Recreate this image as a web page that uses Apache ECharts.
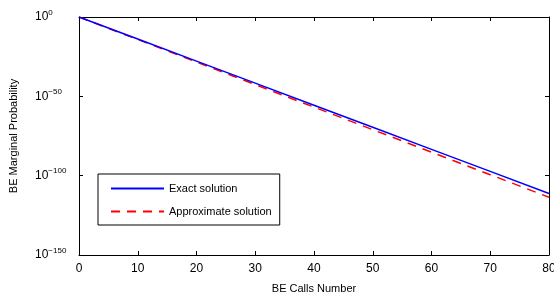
<!DOCTYPE html>
<html>
<head>
<meta charset="utf-8">
<script src="https://cdn.jsdelivr.net/npm/echarts@6/dist/echarts.min.js"></script>
<style>
  html, body { margin: 0; padding: 0; background: #fff; }
  #chart { width: 554px; height: 297px; }
</style>
</head>
<body>
<div id="chart"></div>
<script>
// calls number (x) and log10 of the probabilities
const calls = [0, 10, 20, 30, 40, 50, 60, 70, 80];
const exactLog10 = [0, -13.9, -27.8, -41.7, -55.6, -69.5, -83.4, -97.3, -111.2];
const approxLog10 = [0, -14.2, -28.4, -42.6, -56.8, -71.0, -85.2, -99.4, -113.6];
const yTicks = [-150, -100, -50, 0];
const seriesNames = ['Exact solution', 'Approximate solution'];

const font = 'Liberation Sans, Arial, sans-serif';

function pairs(ys) {
  return calls.map((x, i) => [x, ys[i]]);
}

function powLabel(e) {
  return '{b|10}{s|' + (e < 0 ? '\u2212' + (-e) : e) + '}';
}

const chart = echarts.init(document.getElementById('chart'));
chart.setOption({
  animation: false,
  textStyle: { fontFamily: font },
  grid: { left: 79, right: 5, top: 17, bottom: 42, outerBoundsMode: 'none' },
  legend: {
    orient: 'vertical',
    left: 98, top: 174,
    borderColor: '#000', borderWidth: 1,
    padding: [9, 8, 8, 12],
    itemWidth: 53, itemHeight: 10, itemGap: 12,
    itemStyle: { opacity: 0 },
    textStyle: { fontFamily: font, fontSize: 11, color: '#000' },
    data: seriesNames
  },
  xAxis: [{
    type: 'value', min: 0, max: 80, interval: 10, position: 'bottom',
    name: 'BE Calls Number', nameLocation: 'middle', nameGap: 28,
    nameTextStyle: { fontSize: 11, color: '#000' },
    axisLine: { onZero: false, lineStyle: { color: '#000', width: 1 } },
    axisTick: { inside: true, length: 4, lineStyle: { color: '#000' } },
    axisLabel: { fontSize: 12, color: '#000', margin: 8 },
    splitLine: { show: false }
  }, {
    type: 'value', min: 0, max: 80, interval: 10, position: 'top',
    axisLine: { onZero: false, lineStyle: { color: '#000', width: 1 } },
    axisTick: { inside: true, length: 4, lineStyle: { color: '#000' } },
    axisLabel: { show: false },
    splitLine: { show: false }
  }],
  yAxis: [{
    type: 'value', min: yTicks[0], max: yTicks[yTicks.length - 1], interval: 50, position: 'left',
    name: 'BE Marginal Probability', nameLocation: 'middle', nameGap: 60,
    nameTextStyle: { fontSize: 11, color: '#000' },
    axisLine: { onZero: false, lineStyle: { color: '#000', width: 1 } },
    axisTick: { inside: true, length: 4, lineStyle: { color: '#000' } },
    axisLabel: {
      align: 'left', margin: 44, color: '#000',
      formatter: powLabel,
      rich: {
        b: { fontSize: 12, color: '#000', fontFamily: font },
        s: { fontSize: 8, color: '#000', fontFamily: font, padding: [0, 0, 9, 0] }
      }
    },
    splitLine: { show: false }
  }, {
    type: 'value', min: yTicks[0], max: yTicks[yTicks.length - 1], interval: 50, position: 'right',
    axisLine: { onZero: false, lineStyle: { color: '#000', width: 1 } },
    axisTick: { inside: true, length: 4, lineStyle: { color: '#000' } },
    axisLabel: { show: false },
    splitLine: { show: false }
  }],
  series: [{
    name: seriesNames[0], type: 'line', symbol: 'none',
    data: pairs(exactLog10),
    lineStyle: { color: '#0000ff', width: 1.5 },
    itemStyle: { color: '#0000ff' },
    z: 3
  }, {
    name: seriesNames[1], type: 'line', symbol: 'none',
    data: pairs(approxLog10),
    lineStyle: { color: '#ff0000', width: 1.5, type: [9, 7] },
    itemStyle: { color: '#ff0000' },
    z: 2
  }]
});
</script>
</body>
</html>
